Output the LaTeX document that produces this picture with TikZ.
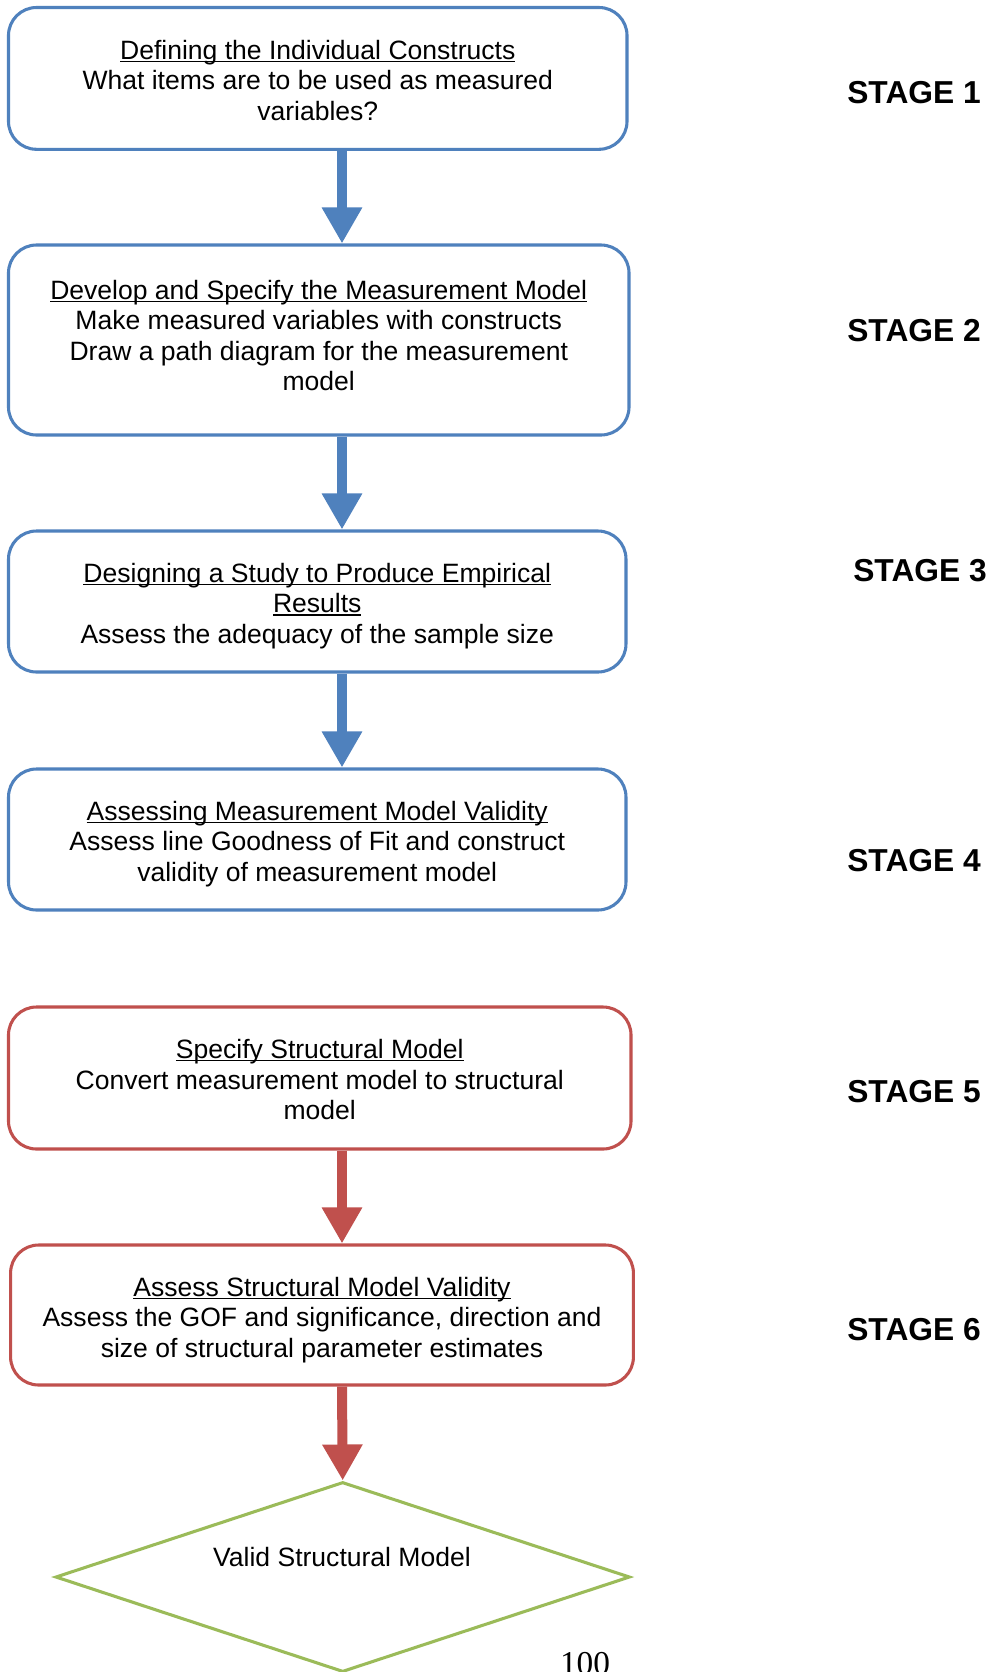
\documentclass[tikz,border=0pt]{standalone}
\usepackage{fontspec}
\setmainfont{Liberation Sans}
\newfontfamily\pagenumfont{Liberation Serif}
\usetikzlibrary{arrows.meta,shapes.geometric}
\definecolor{stepblue}{HTML}{4F81BD}
\definecolor{stepred}{HTML}{C0504D}
\definecolor{stepgreen}{HTML}{9BBB59}
% underline drawn close to the baseline, through the descenders
\newcommand\ulin[1]{\setbox0=\hbox{#1}\rlap{\rule[-0.11em]{\wd0}{0.06em}}\box0}
\begin{document}
\begin{tikzpicture}[x=0.75pt,y=-0.75pt,
  bodytext/.style={font=\fontsize{19.9}{22.9}\selectfont, align=center, inner sep=0pt},
  stage/.style={font=\fontsize{23.8}{28}\selectfont\bfseries},
  stepbox/.style={draw, line width=2.3pt, rounded corners=21pt, inner sep=0pt},
  bluebox/.style={stepbox, draw=stepblue},
  redbox/.style={stepbox, draw=stepred},
  flow/.style={line width=7.5pt, -{Triangle[width=28.5pt,length=27pt]}}]
\useasboundingbox (0,0) rectangle (994,1672);
\fill[white] (0,0) rectangle (994,1672);

% measurement model stages
\node[bluebox, minimum width=463.9pt, minimum height=106.35pt] (b1) at (317.75,78.4) {};
\node[bodytext] (b1text) at (317.75,80.4)
  {\ulin{Defining the Individual Constructs}\\What items are to be used as measured\\variables?};
\node[bluebox, minimum width=465.4pt, minimum height=142.5pt] (b2) at (318.75,340) {};
\node[bodytext] (b2text) at (318.75,335.5)
  {\ulin{Develop and Specify the Measurement Model}\\Make measured variables with constructs\\Draw a path diagram for the measurement\\model};
\node[bluebox, minimum width=463.1pt, minimum height=105.75pt] (b3) at (317.25,601.5) {};
\node[bodytext] (b3text) at (317.25,606)
  {\ulin{Designing a Study to Produce Empirical}\\\ulin{Results}\\Assess the adequacy of the sample size};
\node[bluebox, minimum width=463.1pt, minimum height=105.75pt] (b4) at (317.25,839.5) {};
\node[bodytext] (b4text) at (317.25,844)
  {\ulin{Assessing Measurement Model Validity}\\Assess line Goodness of Fit and construct\\validity of measurement model};

% structural model stages
\node[redbox, minimum width=466.9pt, minimum height=106.5pt] (b5) at (319.75,1078) {};
\node[bodytext] (b5text) at (319.75,1079.5)
  {\ulin{Specify Structural Model}\\Convert measurement model to structural\\model};
\node[redbox, minimum width=467.1pt, minimum height=105pt] (b6) at (322,1315) {};
\node[bodytext] (b6text) at (322,1320)
  {\ulin{Assess Structural Model Validity}\\Assess the GOF and significance, direction and\\size of structural parameter estimates};

% final outcome
\node[diamond, draw=stepgreen, line width=2.3pt, minimum width=430.9pt,
      minimum height=142.5pt, inner sep=0pt] (valid) at (342.7,1577) {};
\node[bodytext] (validlabel) at (342,1557) {Valid Structural Model};

% connectors
\coordinate (axis) at (342,0);
\draw[flow, stepblue] (b1.south -| axis) -- (b2.north -| axis);
\draw[flow, stepblue] (b2.south -| axis) -- (b3.north -| axis);
\draw[flow, stepblue] (b3.south -| axis) -- (b4.north -| axis);
\draw[flow, stepred] (b5.south -| axis) -- (b6.north -| axis);
\draw[flow, stepred] (b6.south -| axis) -- (valid.north);

% stage labels
\node[stage] (s1) at (914,93) {STAGE 1};
\node[stage] (s2) at (914,331) {STAGE 2};
\node[stage] (s3) at (920,570.5) {STAGE 3};
\node[stage] (s4) at (914,861) {STAGE 4};
\node[stage] (s5) at (914,1092) {STAGE 5};
\node[stage] (s6) at (914,1330) {STAGE 6};

% page number
\node[font=\pagenumfont\fontsize{25}{30}\selectfont, anchor=base, inner sep=0pt] (pagenum) at (585,1674) {100};
\end{tikzpicture}
\end{document}
